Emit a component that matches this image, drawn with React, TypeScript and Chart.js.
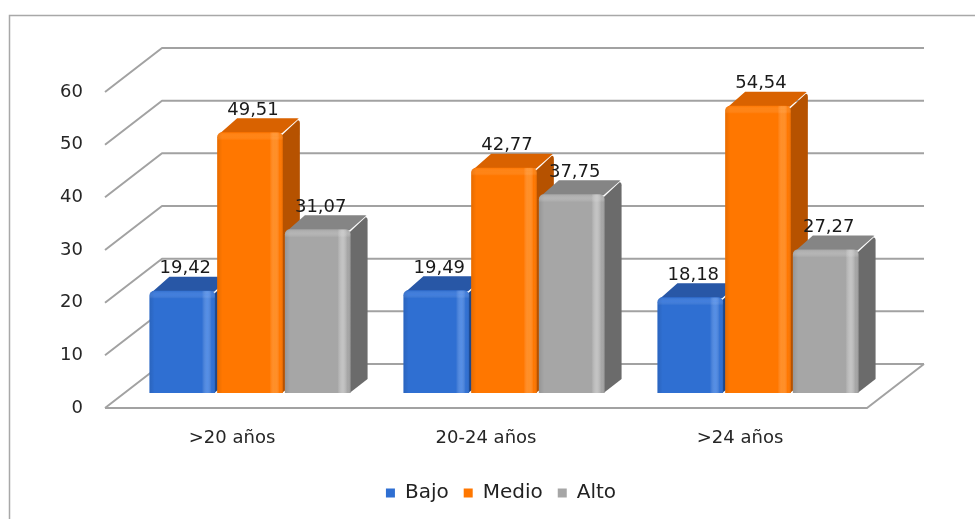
import { useEffect, useRef } from "react";
import { Chart, registerables } from "chart.js";

Chart.register(...registerables);

const categories = [">20 años", "20-24 años", ">24 años"];
const seriesNames = ["Bajo", "Medio", "Alto"];
const bajo = [19.42, 19.49, 18.18];
const medio = [49.51, 42.77, 54.54];
const alto = [31.07, 37.75, 27.27];
const yTicks = [0, 10, 20, 30, 40, 50, 60];

const FONT = "'DejaVu Sans', sans-serif";
const WALL_DX = 57;
const WALL_DY = -44;
const BAR_OFF_X = 18;
const BAR_OFF_Y = -15;
const BAR_DX = 17;
const BAR_DY = -14;
const PAD_LEFT = 27;

const palette = [
  { front: "#2f6fd2", top: "#2857a6", side: "#1e4789", hi: "rgba(130,180,255,0.45)", hiTop: "rgba(120,170,255,0.25)" },
  { front: "#ff7700", top: "#d96200", side: "#b65200", hi: "rgba(255,170,80,0.45)", hiTop: "rgba(255,170,80,0.25)" },
  { front: "#a6a6a6", top: "#858585", side: "#6b6b6b", hi: "rgba(215,215,215,0.6)", hiTop: "rgba(215,215,215,0.3)" },
];

const fmt = (v: number) => v.toFixed(2).replace(".", ",");

const threeD = {
  id: "threeD",
  beforeDraw(chart: any) {
    const ctx = chart.ctx;
    ctx.save();
    ctx.fillStyle = "#ffffff";
    ctx.fillRect(0, 0, chart.width, chart.height);
    ctx.strokeStyle = "#a8a8a8";
    ctx.lineWidth = 1.5;
    ctx.beginPath();
    ctx.moveTo(9.5, chart.height + 5);
    ctx.lineTo(9.5, 15.5);
    ctx.lineTo(chart.width + 5, 15.5);
    ctx.stroke();
    ctx.restore();
  },
  beforeDatasetsDraw(chart: any) {
    const { ctx, chartArea } = chart;
    const { left, right, bottom } = chartArea;
    const ys = chart.scales.y;
    ctx.save();
    ctx.strokeStyle = "#a2a2a2";
    ctx.lineWidth = 2;
    ctx.lineJoin = "round";
    yTicks.forEach((v) => {
      const py = ys.getPixelForValue(v);
      ctx.beginPath();
      ctx.moveTo(left, py);
      ctx.lineTo(left + WALL_DX, py + WALL_DY);
      ctx.lineTo(right + WALL_DX, py + WALL_DY);
      ctx.stroke();
    });
    ctx.beginPath();
    ctx.moveTo(left, bottom);
    ctx.lineTo(right, bottom);
    ctx.lineTo(right + WALL_DX, bottom + WALL_DY);
    ctx.stroke();
    ctx.restore();
  },
  beforeDatasetDraw() {
    return false;
  },
  afterDatasetsDraw(chart: any) {
    const ctx = chart.ctx;
    ctx.save();
    ctx.translate(BAR_OFF_X, BAR_OFF_Y);
    const labels: { x: number; y: number; t: string }[] = [];
    chart.data.datasets.forEach((ds: any, di: number) => {
      const meta = chart.getDatasetMeta(di);
      const c = palette[di];
      meta.data.forEach((bar: any, i: number) => {
        const { x, y, base, width } = bar.getProps(["x", "y", "base", "width"], true);
        const l = x - width / 2;
        const r = x + width / 2;
        // side face
        ctx.fillStyle = c.side;
        ctx.beginPath();
        ctx.moveTo(r - 1, y + 3);
        ctx.lineTo(r + BAR_DX - 2, y + BAR_DY + 2);
        ctx.quadraticCurveTo(r + BAR_DX, y + BAR_DY + 2, r + BAR_DX, y + BAR_DY + 5);
        ctx.lineTo(r + BAR_DX, base + BAR_DY);
        ctx.lineTo(r - 1, base);
        ctx.closePath();
        ctx.fill();
        // top face
        ctx.fillStyle = c.top;
        ctx.beginPath();
        ctx.moveTo(l + 3, y + 1);
        ctx.lineTo(r - 1, y + 1);
        ctx.lineTo(r + BAR_DX - 2, y + BAR_DY + 1);
        ctx.quadraticCurveTo(r + BAR_DX, y + BAR_DY, r + BAR_DX - 3, y + BAR_DY);
        ctx.lineTo(l + BAR_DX + 3, y + BAR_DY);
        ctx.closePath();
        ctx.fill();
        // front face via the library's element
        bar.draw(ctx);
        // shading overlay
        ctx.save();
        ctx.beginPath();
        ctx.roundRect(l, y, width, base - y, [5, 5, 0, 0]);
        ctx.clip();
        const g = ctx.createLinearGradient(l, 0, r, 0);
        g.addColorStop(0, "rgba(0,0,0,0.10)");
        g.addColorStop(0.08, "rgba(0,0,0,0)");
        g.addColorStop(0.8, "rgba(255,255,255,0)");
        g.addColorStop(0.88, c.hi);
        g.addColorStop(0.95, "rgba(255,255,255,0)");
        g.addColorStop(1, "rgba(0,0,0,0.10)");
        ctx.fillStyle = g;
        ctx.fillRect(l, y, width, base - y);
        const gv = ctx.createLinearGradient(0, y, 0, y + 8);
        gv.addColorStop(0, "rgba(255,255,255,0)");
        gv.addColorStop(0.5, c.hiTop);
        gv.addColorStop(1, "rgba(255,255,255,0)");
        ctx.fillStyle = gv;
        ctx.fillRect(l, y, width, 8);
        ctx.restore();
        labels.push({ x: x + 3, y: y - 22, t: fmt(ds.data[i]) });
      });
    });
    ctx.fillStyle = "#1a1a1a";
    ctx.font = `18px ${FONT}`;
    ctx.textAlign = "center";
    ctx.textBaseline = "middle";
    labels.forEach((lb) => ctx.fillText(lb.t, lb.x, lb.y));
    ctx.restore();
  },
};

export default function App() {
  const ref = useRef<HTMLCanvasElement | null>(null);
  useEffect(() => {
    if (!ref.current) return;
    const series = [bajo, medio, alto];
    const chart = new Chart(ref.current, {
      type: "bar",
      data: {
        labels: categories,
        datasets: seriesNames.map((name, i) => ({
          label: name,
          data: series[i],
          backgroundColor: palette[i].front,
          borderRadius: { topLeft: 5, topRight: 5, bottomLeft: 0, bottomRight: 0 },
          borderSkipped: "start",
          barPercentage: 0.97,
          categoryPercentage: 0.8,
        })),
      },
      options: {
        animation: false,
        responsive: false,
        events: [],
        layout: { padding: { left: PAD_LEFT, right: 0, top: 92, bottom: 6 } },
        plugins: {
          tooltip: { enabled: false },
          legend: {
            position: "bottom",
            labels: {
              font: { family: FONT, size: 20 },
              color: "#222222",
              boxWidth: 9,
              boxHeight: 9,
              padding: 15,
            },
          },
        },
        scales: {
          x: {
            grid: { display: false, drawTicks: false },
            border: { display: false },
            ticks: { font: { family: FONT, size: 18 }, color: "#262626", padding: 20 },
            afterFit: (s: any) => {
              s.height = 60;
            },
          },
          y: {
            min: 0,
            max: 60,
            grid: { display: false, drawTicks: false },
            border: { display: false },
            ticks: { stepSize: 10, font: { family: FONT, size: 18 }, color: "#262626", padding: 22 },
            afterFit: (s: any) => {
              s.width = 105 - PAD_LEFT;
            },
          },
          y2: {
            position: "right",
            display: true,
            grid: { display: false, drawTicks: false },
            border: { display: false },
            ticks: { display: false },
            afterFit: (s: any) => {
              s.width = 108;
            },
          },
        },
      },
      plugins: [threeD],
    } as any);
    return () => chart.destroy();
  }, []);
  return (
    <div style={{ position: "fixed", left: 0, top: 0, width: 975, height: 519, background: "#fff" }}>
      <canvas ref={ref} width={975} height={519} />
    </div>
  );
}
